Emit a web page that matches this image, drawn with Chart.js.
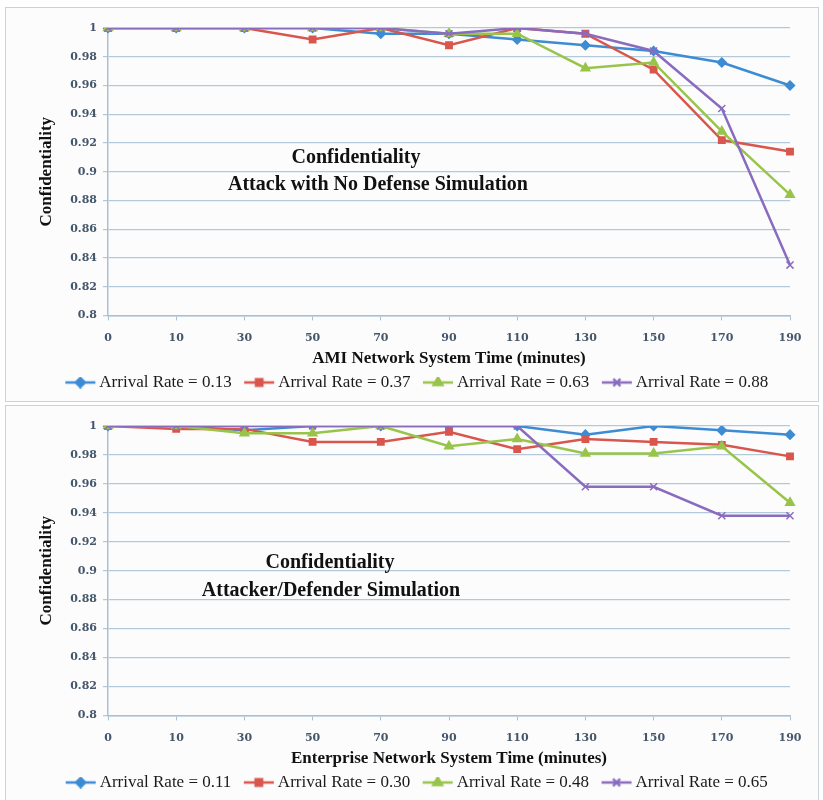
<!DOCTYPE html>
<html>
<head>
<meta charset="utf-8">
<script src="https://cdn.jsdelivr.net/npm/chart.js@4.4.1/dist/chart.umd.min.js"></script>
<style>
  body { margin: 0; background: #fff; }
  .box { position: absolute; left: 5px; width: 812px; border: 1px solid #c9d3dc; background: #fcfcfd; }
  #box1 { top: 7px; height: 393px; }
  #box2 { top: 405px; height: 395px; }
</style>
</head>
<body>
<div class="box" id="box1"><canvas id="chart1"></canvas></div>
<div class="box" id="box2"><canvas id="chart2"></canvas></div>
<script>
// x categories (minutes), shared by both charts
const times = ['0', '10', '30', '50', '70', '90', '110', '130', '150', '170', '190'];

// AMI network, attack with no defense
const amiLabels = ['Arrival Rate = 0.13', 'Arrival Rate = 0.37', 'Arrival Rate = 0.63', 'Arrival Rate = 0.88'];
const ami013 = [1, 1, 1, 1, 0.996, 0.996, 0.992, 0.988, 0.984, 0.976, 0.960];
const ami037 = [1, 1, 1, 0.992, 1, 0.988, 1, 0.996, 0.971, 0.922, 0.914];
const ami063 = [1, 1, 1, 1, 1, 0.996, 0.996, 0.972, 0.976, 0.928, 0.884];
const ami088 = [1, 1, 1, 1, 1, 0.996, 1, 0.996, 0.984, 0.944, 0.835];

// Enterprise network, attacker/defender
const entLabels = ['Arrival Rate = 0.11', 'Arrival Rate = 0.30', 'Arrival Rate = 0.48', 'Arrival Rate = 0.65'];
const ent011 = [1, 1, 0.997, 1, 1, 1, 1, 0.994, 1, 0.997, 0.994];
const ent030 = [1, 0.998, 0.998, 0.989, 0.989, 0.996, 0.984, 0.991, 0.989, 0.987, 0.979];
const ent048 = [1, 1, 0.995, 0.995, 1, 0.986, 0.991, 0.981, 0.981, 0.986, 0.947];
const ent065 = [1, 1, 1, 1, 1, 1, 1, 0.958, 0.958, 0.938, 0.938];

const colors = ['#3d8bd3', '#d9564c', '#98c44a', '#8a6cbf'];
const markers = ['rectRot', 'rect', 'triangle', 'crossRot'];
const radii = [4.5, 4.5, 5, 5];

const serif = "'Liberation Serif', serif";
const tickFont = "'DejaVu Serif', serif";

// "line + marker" swatch for the legend; the image is wider than the legend box,
// with the swatch in its right part so it sits close to the text
function swatch(i) {
  const c = document.createElement('canvas');
  c.width = 46; c.height = 12;
  const ctx = c.getContext('2d');
  ctx.strokeStyle = colors[i];
  ctx.fillStyle = colors[i];
  ctx.lineWidth = 2.5;
  ctx.beginPath(); ctx.moveTo(14, 6); ctx.lineTo(44, 6); ctx.stroke();
  Chart.helpers.drawPoint(ctx, { pointStyle: markers[i], radius: radii[i], rotation: 0, borderWidth: 1.5 }, 29, 6);
  return c;
}

// annotation text inside the plot
const notePlugin = {
  id: 'note',
  afterDatasetsDraw(chart, args, opts) {
    const { ctx, chartArea } = chart;
    ctx.save();
    ctx.font = "bold 20px " + serif;
    ctx.fillStyle = '#111';
    ctx.textAlign = 'center';
    ctx.textBaseline = 'middle';
    opts.lines.forEach(l => {
      ctx.fillText(l.text, chartArea.left + l.x, chartArea.top + l.y);
    });
    ctx.restore();
  }
};

function makeChart(id, labels, series, xTitle, lines) {
  const datasets = series.map((d, i) => ({
    label: labels[i],
    data: d,
    borderColor: colors[i],
    backgroundColor: colors[i],
    borderWidth: 2.5,
    pointStyle: markers[i],
    pointRadius: radii[i],
    pointBorderWidth: 1.5,
    order: 3 - i,
    tension: 0
  }));
  return new Chart(document.getElementById(id), {
    type: 'line',
    data: { labels: times, datasets: datasets },
    options: {
      responsive: true,
      maintainAspectRatio: false,
      animation: false,
      layout: { padding: { top: 20, left: 30, right: 28, bottom: 0 } },
      plugins: {
        tooltip: { enabled: false },
        note: { lines: lines },
        legend: {
          position: 'bottom',
          labels: {
            font: { family: serif, size: 17 },
            color: '#1a1a1a',
            usePointStyle: true,
            pointStyleWidth: 33,
            boxHeight: 12,
            padding: 5,
            sort: (a, b) => a.datasetIndex - b.datasetIndex,
            generateLabels(chart) {
              const items = Chart.defaults.plugins.legend.labels.generateLabels(chart);
              items.forEach(it => { it.pointStyle = swatch(it.datasetIndex); });
              return items;
            }
          }
        }
      },
      scales: {
        x: {
          grid: { drawOnChartArea: false, color: '#a9c0d3', tickLength: 5 },
          border: { color: '#a9c0d3', width: 1.5 },
          ticks: { font: { family: tickFont, size: 11, weight: 'bold' }, color: '#44566a', padding: 11, maxRotation: 0 },
          title: { display: true, text: xTitle, font: { family: serif, size: 17, weight: 'bold' }, color: '#111', padding: { top: -7, bottom: 0 } }
        },
        y: {
          min: 0.8,
          max: 1,
          afterFit(scale) { scale.width = 72; },
          grid: { color: '#b3c9da', lineWidth: 1.2, tickLength: 5 },
          border: { color: '#a9c0d3', width: 1.5 },
          ticks: {
            stepSize: 0.02,
            font: { family: tickFont, size: 11, weight: 'bold' },
            color: '#44566a',
            padding: 6,
            callback: v => String(Number(v.toFixed(2)))
          },
          title: { display: true, text: 'Confidentiality', font: { family: serif, size: 17, weight: 'bold' }, color: '#111', padding: 0 }
        }
      }
    },
    plugins: [notePlugin]
  });
}

makeChart('chart1', amiLabels, [ami013, ami037, ami063, ami088], 'AMI Network System Time (minutes)', [
  { text: 'Confidentiality', x: 248, y: 130 },
  { text: 'Attack with No Defense Simulation', x: 270, y: 157 }
]);
makeChart('chart2', entLabels, [ent011, ent030, ent048, ent065], 'Enterprise Network System Time (minutes)', [
  { text: 'Confidentiality', x: 222, y: 137 },
  { text: 'Attacker/Defender Simulation', x: 223, y: 165 }
]);
</script>
</body>
</html>
